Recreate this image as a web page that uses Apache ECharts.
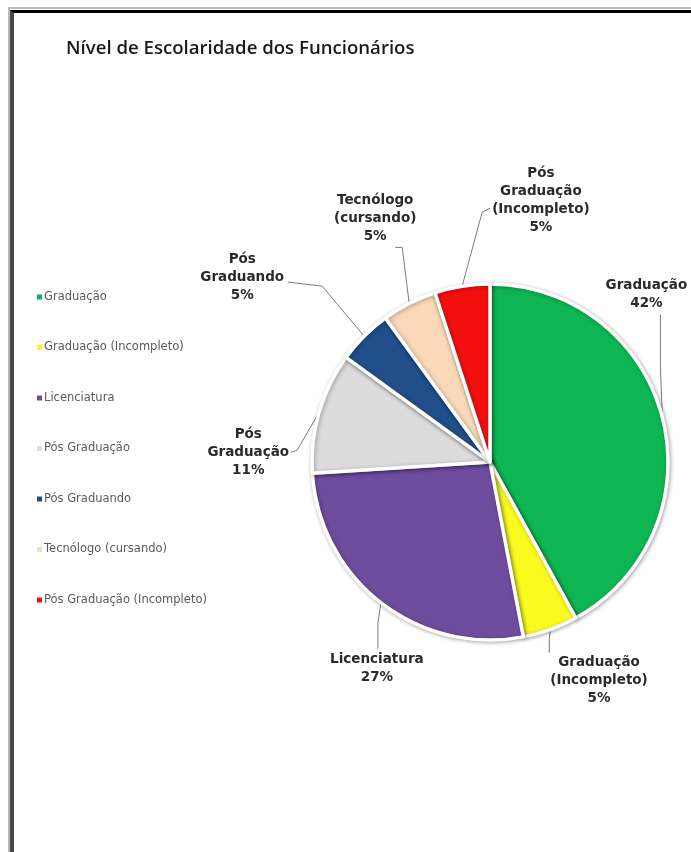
<!DOCTYPE html>
<html>
<head>
<meta charset="utf-8">
<script src="https://cdn.jsdelivr.net/npm/echarts@6/dist/echarts.min.js"></script>
<style>
html,body{margin:0;padding:0;background:#fff;width:691px;height:852px;overflow:hidden;}
#frame{position:absolute;left:8px;top:7px;width:683px;height:845px;border-left:2px solid #b8b8b8;border-top:2px solid #bdbdbd;}
#frame2{position:absolute;left:10px;top:10px;width:681px;height:842px;border-left:4px solid #4a4a4a;border-top:3px solid #000;}
#chart{position:absolute;left:0;top:0;width:691px;height:852px;}
</style>
</head>
<body>
<div id="frame"></div>
<div id="frame2"></div>
<div id="chart"></div>
<script>
const categories = ["Graduação","Graduação (Incompleto)","Licenciatura","Pós Graduação","Pós Graduando","Tecnólogo (cursando)","Pós Graduação (Incompleto)"];
const values = [42,5,27,11,5,5,5];
const colors = ["#0db652","#fafa1e","#6e4d9f","#dcdcdc","#214f8b","#fad9b8","#f40f0f"];

// label placement relative to the computed slice edge point (styling only)
// [dx, dy, side, vAlign, elbow dx, elbow dy, end dx, end dy]
const labelPlace = [
  [-16,-105,'c','bottom', -2,-50, -2,-103],
  [ 0, 24,'l','top',     -1,10, -1,23],
  [-4, 48,'c','top',     -3,20, -3,46],
  [-30, 40,'r','middle', -22,38, -28,40],
  [-80,-59,'r','middle', -42,-50, -76,-54],
  [-34,-58,'c','bottom', -7,-56, -14,-56],
  [ 30,-86,'l','middle', 20,-74, 28,-78]
];

const CX = 490, CY = 462, R = 178;
const total = values.reduce((a,b)=>a+b,0);
function edgePoint(i){
  let cum = 0; for (let k=0;k<i;k++) cum += values[k];
  const mid = (cum + values[i]/2)/total*2*Math.PI;
  return [CX + R*Math.sin(mid), CY - R*Math.cos(mid)];
}

const chart = echarts.init(document.getElementById('chart'), null, {renderer:'canvas'});
chart.setOption({
  backgroundColor: 'transparent',
  animation: false,
  title: {
    text: 'Nível de Escolaridade dos Funcionários',
    left: 61, top: 34,
    textStyle: {fontFamily:'Open Sans', fontSize:18.6, fontWeight:600, color:'#1a1a1a'}
  },
  legend: {
    orient: 'vertical',
    left: 30, top: 286,
    itemGap: 38.5,
    itemWidth: 7, itemHeight: 7,
    icon: 'rect',
    selectedMode: false,
    data: categories,
    textStyle: {fontFamily:'DejaVu Sans', fontSize:11.5, lineHeight:12, color:'#5a5a5a', padding:[0,0,0,-4]}
  },
  series: [{
    type: 'pie',
    center: [CX, CY],
    radius: R,
    startAngle: 90,
    clockwise: true,
    avoidLabelOverlap: false,
    itemStyle: {borderColor:'#fff', borderWidth:3.5, shadowColor:'rgba(0,0,0,0.3)', shadowBlur:4, shadowOffsetX:1, shadowOffsetY:1},
    label: {
      show: true,
      position: 'outside',
      fontFamily: 'DejaVu Sans',
      fontWeight: 'bold',
      fontSize: 13.5,
      lineHeight: 18,
      color: '#2a2a2a',
      align: 'center',
      formatter: p => p.name.split(' ').join('\n') + '\n' + p.value + '%'
    },
    labelLine: {show:true, length:20, length2:10, lineStyle:{color:'#7a7a7a', width:1}},
    labelLayout: function(params){
      const i = params.dataIndex;
      const pl = labelPlace[i];
      const e = edgePoint(i);
      const w = params.labelRect.width;
      let x = e[0] + pl[0];
      if (pl[2] === 'r') x -= w/2;
      if (pl[2] === 'l') x += w/2;
      return {
        x: x, y: e[1] + pl[1],
        align: 'center', verticalAlign: pl[3],
        hideOverlap: false, moveOverlap: null,
        labelLinePoints: [e, [e[0]+pl[4], e[1]+pl[5]], [e[0]+pl[6], e[1]+pl[7]]]
      };
    },
    emphasis: {disabled: true},
    data: categories.map((c,i)=>({name:c, value:values[i], itemStyle:{color:colors[i]}}))
  }]
});
</script>
</body>
</html>
